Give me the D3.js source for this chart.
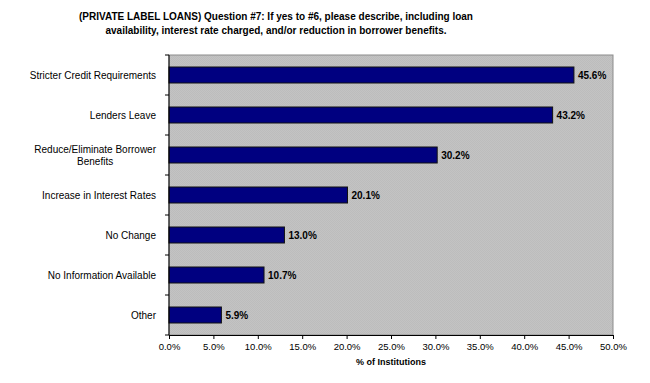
<!DOCTYPE html>
<html>
<head>
<meta charset="utf-8">
<script src="https://cdn.jsdelivr.net/npm/d3@7"></script>
<style>
  body { margin: 0; background: #fff; }
  svg { display: block; font-family: "Liberation Sans", Arial, sans-serif; }
</style>
</head>
<body>
<div id="chart"></div>
<script>
// chart data
var categories = [
  "Stricter Credit Requirements",
  "Lenders Leave",
  "Reduce/Eliminate Borrower Benefits",
  "Increase in Interest Rates",
  "No Change",
  "No Information Available",
  "Other"
];
var values = [45.6, 43.2, 30.2, 20.1, 13.0, 10.7, 5.9];
var xTicks = [0, 5, 10, 15, 20, 25, 30, 35, 40, 45, 50];
var titleLines = [
  "(PRIVATE LABEL LOANS) Question #7: If yes to #6, please describe, including loan",
  "availability, interest rate charged, and/or reduction in borrower benefits."
];
var xTitle = "% of Institutions";

var width = 650, height = 383;
var margin = { left: 169, right: 37, top: 55, bottom: 48 };

var svg = d3.select("#chart").append("svg")
  .attr("width", width)
  .attr("height", height);

// dotted grey background like the excel chart
var defs = svg.append("defs");
var pat = defs.append("pattern")
  .attr("id", "dots")
  .attr("width", 2).attr("height", 2)
  .attr("patternUnits", "userSpaceOnUse");
pat.append("rect").attr("width", 2).attr("height", 2).attr("fill", "#c3c3c3");
pat.append("rect").attr("width", 1).attr("height", 1).attr("fill", "#bcbcbc");
pat.append("rect").attr("x", 1).attr("y", 1).attr("width", 1).attr("height", 1).attr("fill", "#bcbcbc");

var x = d3.scaleLinear()
  .domain([0, 50])
  .range([margin.left, width - margin.right]);

var y = d3.scaleBand()
  .domain(categories)
  .range([margin.top, height - margin.bottom])
  .paddingInner(0.6)
  .paddingOuter(0.3);

// plot area
svg.append("rect")
  .attr("x", x.range()[0])
  .attr("y", margin.top)
  .attr("width", x.range()[1] - x.range()[0])
  .attr("height", height - margin.bottom - margin.top)
  .attr("fill", "url(#dots)")
  .attr("stroke", "#8c8c8c")
  .attr("stroke-width", 1);

// title
svg.append("g").selectAll("text")
  .data(titleLines)
  .enter()
  .append("text")
  .attr("x", 276)
  .attr("y", function(d, i) { return 20 + i * 14; })
  .attr("text-anchor", "middle")
  .style("font-size", "10px")
  .style("font-weight", "bold")
  .text(function(d) { return d; });

// bars
svg.append("g").selectAll("rect")
  .data(values)
  .enter()
  .append("rect")
  .attr("x", x(0))
  .attr("y", function(d, i) { return y(categories[i]); })
  .attr("width", function(d) { return x(d) - x(0); })
  .attr("height", y.bandwidth())
  .attr("fill", "#000080")
  .attr("stroke", "#111")
  .attr("stroke-width", 1);

// value labels
svg.append("g").selectAll("text")
  .data(values)
  .enter()
  .append("text")
  .attr("x", function(d) { return x(d) + 4; })
  .attr("y", function(d, i) { return y(categories[i]) + y.bandwidth() / 2; })
  .attr("dy", "0.35em")
  .style("font-size", "10px")
  .style("font-weight", "bold")
  .text(function(d) { return d.toFixed(1) + "%"; });

// x axis
var xAxis = svg.append("g")
  .attr("transform", "translate(0," + (height - margin.bottom) + ")")
  .call(d3.axisBottom(x)
    .tickValues(xTicks)
    .tickSize(4)
    .tickFormat(function(d) { return d.toFixed(1) + "%"; }));
xAxis.select(".domain").attr("stroke", "#000");
xAxis.selectAll(".tick line").attr("stroke", "#000");
xAxis.selectAll("text")
  .attr("y", 8)
  .style("font-size", "9.5px")
  .style("font-family", "Liberation Sans, Arial, sans-serif")
  .attr("fill", "#000");

svg.append("text")
  .attr("x", (x.range()[0] + x.range()[1]) / 2)
  .attr("y", 365)
  .attr("text-anchor", "middle")
  .style("font-size", "9px")
  .style("font-weight", "bold")
  .text(xTitle);

// y axis: ticks between categories
var bounds = d3.range(categories.length + 1).map(function(i) {
  return margin.top + i * (height - margin.bottom - margin.top) / categories.length;
});
var yAxis = svg.append("g");
yAxis.append("line")
  .attr("x1", x(0)).attr("x2", x(0))
  .attr("y1", margin.top).attr("y2", height - margin.bottom)
  .attr("stroke", "#000");
yAxis.selectAll("line.tick")
  .data(bounds)
  .enter()
  .append("line")
  .attr("class", "tick")
  .attr("x1", x(0) - 4).attr("x2", x(0))
  .attr("y1", function(d) { return d; })
  .attr("y2", function(d) { return d; })
  .attr("stroke", "#000");

// category labels, wrapping the long one
var labelRight = 156;
var wrapWidth = 130;
svg.append("g").selectAll("text")
  .data(categories)
  .enter()
  .append("text")
  .style("font-size", "10px")
  .each(function(d) {
    var t = d3.select(this);
    var words = d.split(" ");
    var lines = [], line = [];
    var probe = t.append("tspan");
    words.forEach(function(w) {
      line.push(w);
      probe.text(line.join(" "));
      if (probe.node().getComputedTextLength() > wrapWidth && line.length > 1) {
        line.pop();
        lines.push(line.join(" "));
        line = [w];
      }
    });
    lines.push(line.join(" "));
    var maxW = 0;
    lines.forEach(function(l) {
      probe.text(l);
      maxW = Math.max(maxW, probe.node().getComputedTextLength());
    });
    probe.remove();
    var cy = y(d) + y.bandwidth() / 2;
    var lh = 12;
    var cx = labelRight - maxW / 2;
    lines.forEach(function(l, i) {
      t.append("tspan")
        .attr("x", cx)
        .attr("y", cy + (i - (lines.length - 1) / 2) * lh)
        .attr("dy", "0.35em")
        .attr("text-anchor", "middle")
        .text(l);
    });
  });
</script>
</body>
</html>
